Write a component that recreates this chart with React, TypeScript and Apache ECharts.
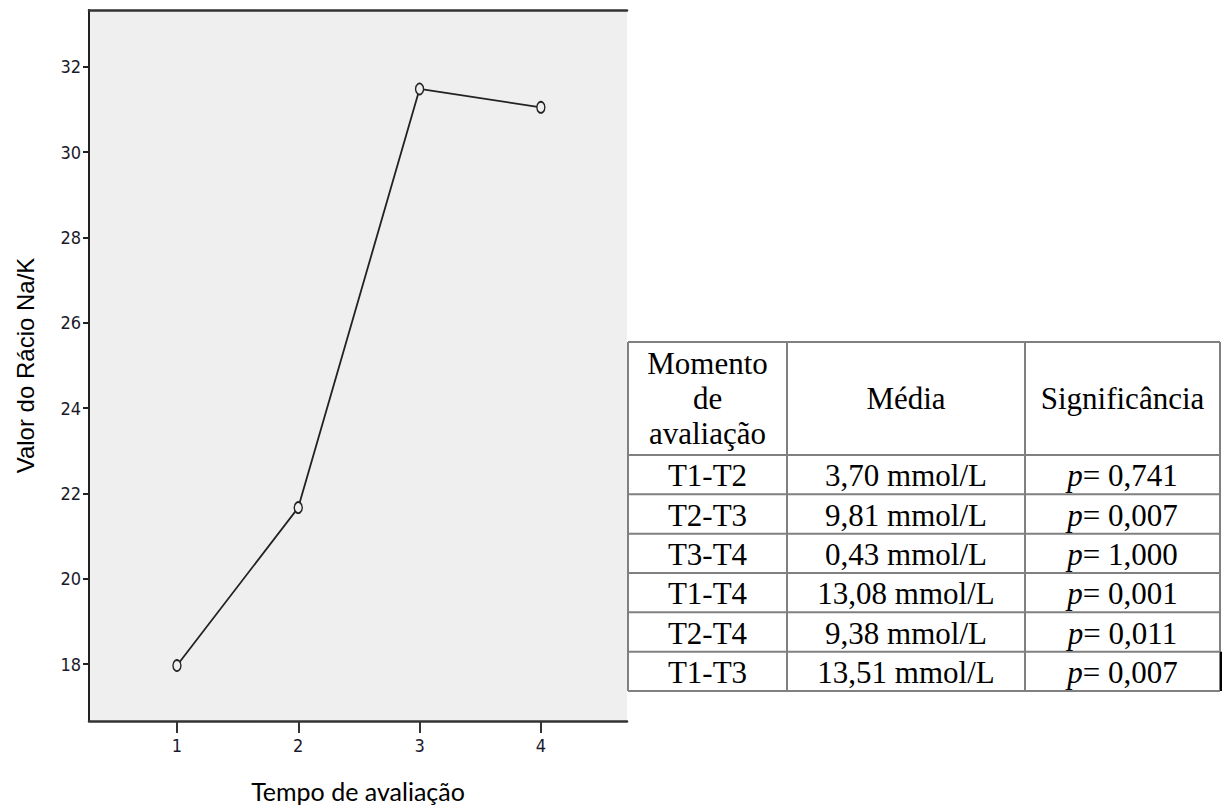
import React, { useEffect, useRef } from 'react';
import * as echarts from 'echarts';

// ---- chart data ----
const timePoints = [1, 2, 3, 4];
const ratioMeans = [17.97, 21.67, 31.48, 31.05];
const yTicks = [18, 20, 22, 24, 26, 28, 30, 32];
const xTicks = [1, 2, 3, 4];
const yTitle = 'Valor do Rácio Na/K';
const xTitle = 'Tempo de avaliação';

// ---- table data ----
const headerCells = [['Momento', 'de', 'avaliação'], ['Média'], ['Significância']];
const comparisons = ['T1-T2', 'T2-T3', 'T3-T4', 'T1-T4', 'T2-T4', 'T1-T3'];
const meanDiffs = ['3,70 mmol/L', '9,81 mmol/L', '0,43 mmol/L', '13,08 mmol/L', '9,38 mmol/L', '13,51 mmol/L'];
const pValues = ['0,741', '0,007', '1,000', '0,001', '0,011', '0,007'];

// ---- table layout ----
const colX = [628, 787, 1025, 1220];
const tableTop = 342;
const headerBottom = 455;
const tableBottom = 691;
const headerLineGap = 35;
const tableFont = 'Liberation Serif, Times New Roman, serif';
const tableFontSize = 31;
const borderColor = '#808080';

function buildTable(): any[] {
  const els: any[] = [];
  const nRows = comparisons.length;
  const rowH = (tableBottom - headerBottom) / nRows;
  const rowY = [tableTop, headerBottom];
  for (let i = 1; i <= nRows; i++) rowY.push(headerBottom + i * rowH);

  rowY.forEach((y) => {
    els.push({
      type: 'line',
      shape: { x1: colX[0], y1: y, x2: colX[colX.length - 1], y2: y },
      style: { stroke: borderColor, lineWidth: 2 },
    });
  });
  colX.forEach((x) => {
    els.push({
      type: 'line',
      shape: { x1: x, y1: tableTop, x2: x, y2: tableBottom },
      style: { stroke: borderColor, lineWidth: 2 },
    });
  });
  els.push({
    type: 'line',
    shape: { x1: colX[3] + 1, y1: rowY[rowY.length - 2], x2: colX[3] + 1, y2: tableBottom },
    style: { stroke: '#000', lineWidth: 2 },
  });

  const centers = [0, 1, 2].map((c) => (colX[c] + colX[c + 1]) / 2);
  const headerMid = (tableTop + headerBottom) / 2;

  headerCells.forEach((lines, c) => {
    const n = lines.length;
    lines.forEach((t, li) => {
      els.push({
        type: 'text',
        x: centers[c],
        y: headerMid + (li - (n - 1) / 2) * headerLineGap,
        style: {
          text: t,
          fill: '#000',
          font: `${tableFontSize}px ${tableFont}`,
          align: 'center',
          verticalAlign: 'middle',
        },
      });
    });
  });

  for (let r = 0; r < nRows; r++) {
    const cy = rowY[r + 1] + rowH / 2 + 1;
    const cells = [comparisons[r], meanDiffs[r]];
    cells.forEach((t, c) => {
      els.push({
        type: 'text',
        x: centers[c],
        y: cy,
        style: {
          text: t,
          fill: '#000',
          font: `${tableFontSize}px ${tableFont}`,
          align: 'center',
          verticalAlign: 'middle',
        },
      });
    });
    els.push({
      type: 'text',
      x: centers[2],
      y: cy,
      style: {
        text: `{i|p}{n|= ${pValues[r]}}`,
        fill: '#000',
        fontFamily: tableFont,
        fontSize: tableFontSize,
        align: 'center',
        verticalAlign: 'middle',
        rich: {
          i: { fontStyle: 'italic', fontFamily: tableFont, fontSize: tableFontSize, fill: '#000' },
          n: { fontFamily: tableFont, fontSize: tableFontSize, fill: '#000' },
        },
      },
    });
  }
  return els;
}

export default function App() {
  const ref = useRef<HTMLDivElement>(null);

  useEffect(() => {
    if (!ref.current) return;
    const chart = echarts.init(ref.current, null, { renderer: 'svg' });
    const tickFont = 'Liberation Sans Narrow, DejaVu Sans Condensed, sans-serif';
    chart.setOption({
      animation: false,
      backgroundColor: '#ffffff',
      grid: {
        left: 89,
        right: 603,
        top: 10,
        bottom: 88,
        show: true,
        backgroundColor: '#efefef',
        borderWidth: 0,
      },
      xAxis: [
        {
          type: 'value',
          min: 0.275,
          max: 4.71,
          splitLine: { show: false },
          axisLine: { show: true, lineStyle: { color: '#333', width: 2.5 } },
          axisTick: {
            show: true,
            customValues: xTicks,
            length: 12,
            lineStyle: { color: '#333', width: 2 },
          },
          axisLabel: {
            customValues: xTicks,
            margin: 15,
            fontFamily: tickFont,
            fontSize: 18,
            color: '#1a1a2a',
          },
          name: xTitle,
          nameLocation: 'middle',
          nameGap: 57,
          nameTextStyle: { fontFamily: 'Lato, Open Sans, sans-serif', fontSize: 25, color: '#000' },
        },
        {
          type: 'value',
          position: 'top',
          min: 0.275,
          max: 4.71,
          splitLine: { show: false },
          axisLine: { show: true, lineStyle: { color: '#333', width: 2.5 } },
          axisTick: { show: false },
          axisLabel: { show: false },
        },
      ],
      yAxis: {
        type: 'value',
        min: 16.67,
        max: 33.33,
        splitLine: { show: false },
        axisLine: { show: true, lineStyle: { color: '#222', width: 2 } },
        axisTick: {
          show: true,
          customValues: yTicks,
          length: 6,
          lineStyle: { color: '#222', width: 2 },
        },
        axisLabel: {
          customValues: yTicks,
          margin: 8,
          fontFamily: tickFont,
          fontSize: 18,
          color: '#1a1a2a',
        },
        name: yTitle,
        nameLocation: 'middle',
        nameGap: 52,
        nameRotate: 90,
        nameTextStyle: { fontFamily: 'Liberation Sans, Arial, sans-serif', fontSize: 24, color: '#000' },
      },
      series: [
        {
          type: 'line',
          xAxisIndex: 0,
          data: timePoints.map((t, i) => [t, ratioMeans[i]]),
          symbol: 'circle',
          symbolSize: [8, 11],
          itemStyle: { color: '#efefef', borderColor: '#222', borderWidth: 1.6 },
          lineStyle: { color: '#222', width: 1.8 },
          emphasis: { disabled: true },
        },
      ],
      graphic: buildTable(),
    });
    return () => chart.dispose();
  }, []);

  return (
    <div
      ref={ref}
      style={{ position: 'absolute', left: 0, top: 0, width: 1230, height: 809 }}
    />
  );
}
